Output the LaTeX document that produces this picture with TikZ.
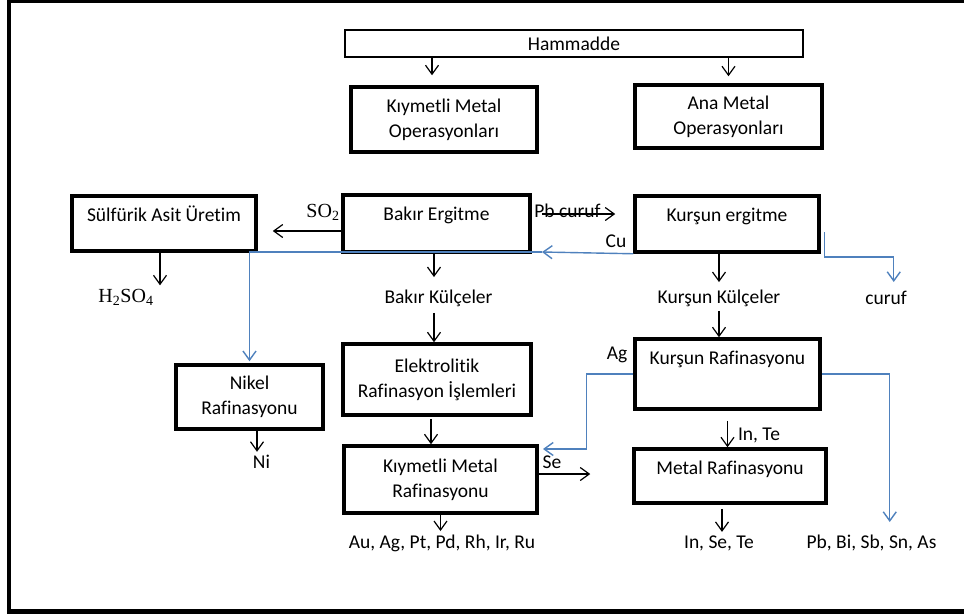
\documentclass[tikz,border=0pt]{standalone}
\usepackage{fontspec}
\setmainfont{Carlito}[Ligatures=NoCommon]
\newfontfamily\chemfont{Liberation Serif}
\usetikzlibrary{arrows.meta}
\definecolor{flowblue}{RGB}{79,129,189}

\begin{document}
\begin{tikzpicture}[x=1pt,y=-1pt,
    every node/.style={font=\fontsize{19.5}{25}\selectfont},
    box/.style={draw=black,line width=3.5pt,align=center,inner sep=0pt},
    toptext/.style={inner ysep=8pt,text height=17pt,text depth=#1},
    arr/.style={draw=black,line width=1.2pt,-{Straight Barb[length=9pt,width=13pt]}},
    blueline/.style={draw=flowblue,line width=1.4pt,-{Straight Barb[length=9pt,width=13pt]}},
    chem/.style={font=\chemfont\fontsize{20}{24}\selectfont}]
    \useasboundingbox (0,0) rectangle (964,614);
    \draw[line width=4.5pt] (9,1) rectangle (990,611.5);

    % kutular
    \node[box,line width=1.2pt,minimum width=458pt,minimum height=27pt] (ham) at (574,43.5) {Hammadde};
    \node[box,minimum width=186pt,minimum height=65pt] (kmo) at (444,119.5) {Kıymetli Metal\\Operasyonları};
    \node[box,minimum width=187pt,minimum height=63pt] (amo) at (728.5,116.5) {Ana Metal\\Operasyonları};
    \node[box,minimum width=184pt,toptext=22pt] (sau) at (164,223.5) {Sülfürik Asit Üretim};
    \node[box,minimum width=187pt,toptext=24pt] (bak) at (436.5,223.5) {Bakır Ergitme};
    \node[box,minimum width=184pt,toptext=23pt] (kue) at (727,224) {Kurşun ergitme};
    \node[box,minimum width=147pt,minimum height=64pt] (nik) at (249.5,397) {Nikel\\Rafinasyonu};
    \node[box,minimum width=188pt,minimum height=71pt] (ele) at (437,379.5) {Elektrolitik\\Rafinasyon İşlemleri};
    \node[box,minimum width=193pt,minimum height=67pt] (kmr) at (440.5,479.5) {Kıymetli Metal\\Rafinasyonu};
    \node[box,minimum width=185pt,toptext=37pt] (kra) at (727.5,374) {Kurşun Rafinasyonu};
    \node[box,minimum width=192pt,toptext=21pt] (mra) at (730,476) {Metal Rafinasyonu};

    % etiketler
    \node (bkc) at (438.5,298) {Bakır Külçeler};
    \node (kkc) at (719,298) {Kurşun Külçeler};
    \node (curuf) at (886,298) {curuf};
    \node[chem] (h2so4) at (126,297) {H\textsubscript{2}SO\textsubscript{4}};
    \node[chem] (so2) at (323,212) {SO\textsubscript{2}};
    \node (pbc) at (567.5,211) {Pb curuf};
    \node (cu) at (616,241) {Cu};
    \node (ag) at (617,355) {Ag};
    \node (se) at (552,462) {Se};
    \node (inte) at (759,435) {In, Te};
    \node (ni) at (261.5,462) {Ni};
    \node (out1) at (442,543) {Au, Ag, Pt, Pd, Rh, Ir, Ru};
    \node (out2) at (719,543) {In, Se, Te};
    \node (out3) at (871.5,543) {Pb, Bi, Sb, Sn, As};

    % siyah oklar
    \draw[arr,shorten >=10pt] ([xshift=-12pt]kmo.north |- ham.south) -- ([xshift=-12pt]kmo.north);
    \draw[arr,shorten >=7pt] (amo.north |- ham.south) -- (amo.north);
    \draw[arr,shorten >=15pt] ([yshift=-7.5pt]bak.west) -- ([yshift=-7.5pt]bak.west -| sau.east);
    \draw[arr,shorten <=10pt,shorten >=18pt] ([yshift=9.5pt]bak.east) -- ([yshift=9.5pt]bak.east -| kue.west);
    \draw[arr,shorten >=9pt] ([xshift=-2.5pt]bak.south) -- ([xshift=-2.5pt]bak.south |- bkc.north);
    \draw[arr,shorten <=3pt] ([xshift=-4.5pt]bkc.south) -- ([xshift=-4.5pt]bkc.south |- ele.north);
    \draw[arr,shorten <=2pt] ([xshift=-6pt]ele.south) -- ([xshift=-6pt]ele.south |- kmr.north);
    \draw[arr] (kmr.south) -- (kmr.south |- out1.north);
    \draw[arr,shorten >=42pt] ([yshift=5.5pt]kmr.east) -- ([yshift=5.5pt]kmr.east -| mra.west);
    \draw[arr] ([xshift=-4pt]sau.south) -- ([xshift=-4pt]sau.south |- h2so4.north);
    \draw[arr] ([xshift=7.5pt]nik.south) -- ([xshift=7.5pt]nik.south |- ni.north);
    \draw[arr,shorten >=4pt] (kkc.north |- kue.south) -- (kkc.north);
    \draw[arr,shorten <=1pt] (kkc.south) -- (kkc.south |- kra.north);
    \draw[arr,shorten <=10pt] (kra.south) -- (kra.south |- mra.north);
    \draw[arr,shorten <=4pt] ([xshift=-8pt]mra.south) -- ([xshift=-8pt]mra.south |- out2.north);

    % mavi hatlar
    \coordinate (cuarr) at (542,252);
    \coordinate (agin) at (543,449);
    \draw[blueline] (kue.south west) -- (cuarr);
    \draw[blueline,shorten >=2pt] (cuarr) -| (nik.north);
    \draw[blueline] ([shift={(4pt,-8pt)}]kue.east) |- ++(69,25) -- ++(0,25);
    \draw[blueline] (kra.west) -- ++(-47,0) |- (agin);
    \draw[blueline] (kra.east) -| ++(68,148);
\end{tikzpicture}
\end{document}
